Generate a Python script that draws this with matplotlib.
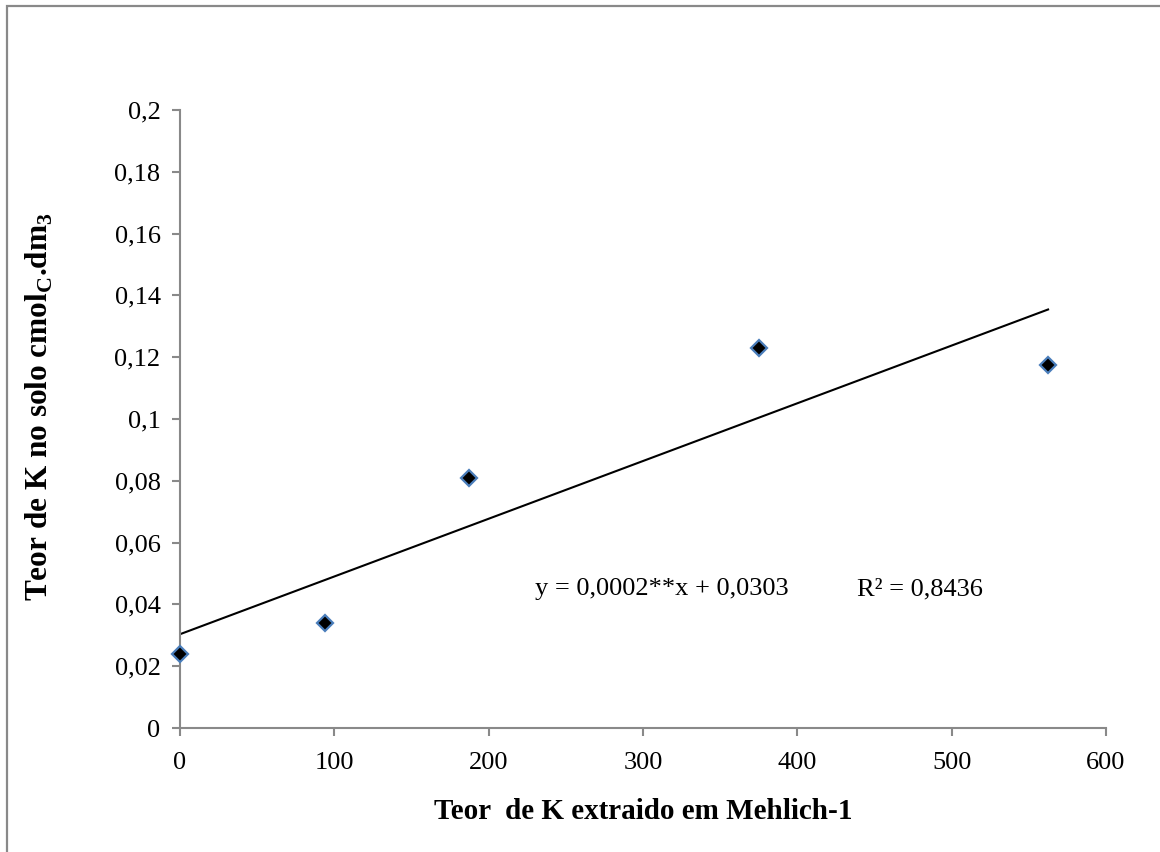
import numpy as np
import matplotlib
matplotlib.use("Agg")
import matplotlib.pyplot as plt
from matplotlib.patches import Rectangle

# Dados
doses_k = [0, 93.75, 187.5, 375, 562.5]
teor_solo = [0.024, 0.034, 0.081, 0.123, 0.1175]
eq_texto = "y = 0,0002**x + 0,0303"
r2_texto = "R² = 0,8436"
x_ticks = [0, 100, 200, 300, 400, 500, 600]
y_ticks = [0, 0.02, 0.04, 0.06, 0.08, 0.1, 0.12, 0.14, 0.16, 0.18, 0.2]

plt.rcParams['font.family'] = ['Liberation Serif', 'DejaVu Serif']
plt.rcParams['mathtext.fontset'] = 'custom'
plt.rcParams['mathtext.rm'] = 'Liberation Serif'
plt.rcParams['mathtext.bf'] = 'Liberation Serif:bold'
cinza = '#898989'

fig = plt.figure(figsize=(11.6, 8.52), dpi=100)
ax = fig.add_axes([0.1552, 0.1455, 0.7982, 0.7254])

# borda externa (estilo Excel)
fig.patches.append(Rectangle((7 / 1160, -0.1), 1.2, 1.1 - 6 / 852,
                             transform=fig.transFigure, fill=False,
                             edgecolor=cinza, linewidth=1.6))

# linha de tendência
coef = np.polyfit(doses_k, teor_solo, 1)
xs = np.array([doses_k[0], doses_k[-1]])
ax.plot(xs, np.polyval(coef, xs), color='black', linewidth=1.5, zorder=2)

ax.plot(doses_k, teor_solo, linestyle='none', marker='D', markersize=8,
        markerfacecolor='black', markeredgecolor='#4a7ebb',
        markeredgewidth=1.6, zorder=3, clip_on=False)

ax.set_xlim(0, 600)
ax.set_ylim(0, 0.2)
ax.set_xticks(x_ticks)
ax.set_yticks(y_ticks)
ax.set_xticklabels([str(v) for v in x_ticks])
ax.set_yticklabels([('%g' % v).replace('.', ',') for v in y_ticks])

for s in ['top', 'right']:
    ax.spines[s].set_visible(False)
for s in ['left', 'bottom']:
    ax.spines[s].set_color(cinza)
    ax.spines[s].set_linewidth(1.5)
ax.tick_params(direction='out', length=6, width=1.5, color=cinza,
               labelsize=19, pad=8)
ax.tick_params(axis='x', pad=11)

ax.set_xlabel("Teor  de K extraido em Mehlich-1", fontsize=21,
              fontweight='bold')
ax.set_ylabel(r"Teor de K no solo cmol$_\mathbf{C}$.dm$_\mathbf{3}$",
              fontsize=22.5, fontweight='bold')
ax.xaxis.set_label_coords(0.5, -0.113)
ax.yaxis.set_label_coords(-0.135, 0.52)

ax.text(230, 0.043, eq_texto, fontsize=19, va='baseline', ha='left')
ax.text(438.7, 0.043, r2_texto, fontsize=19, va='baseline', ha='left')

fig.savefig("out.png", dpi=100)
